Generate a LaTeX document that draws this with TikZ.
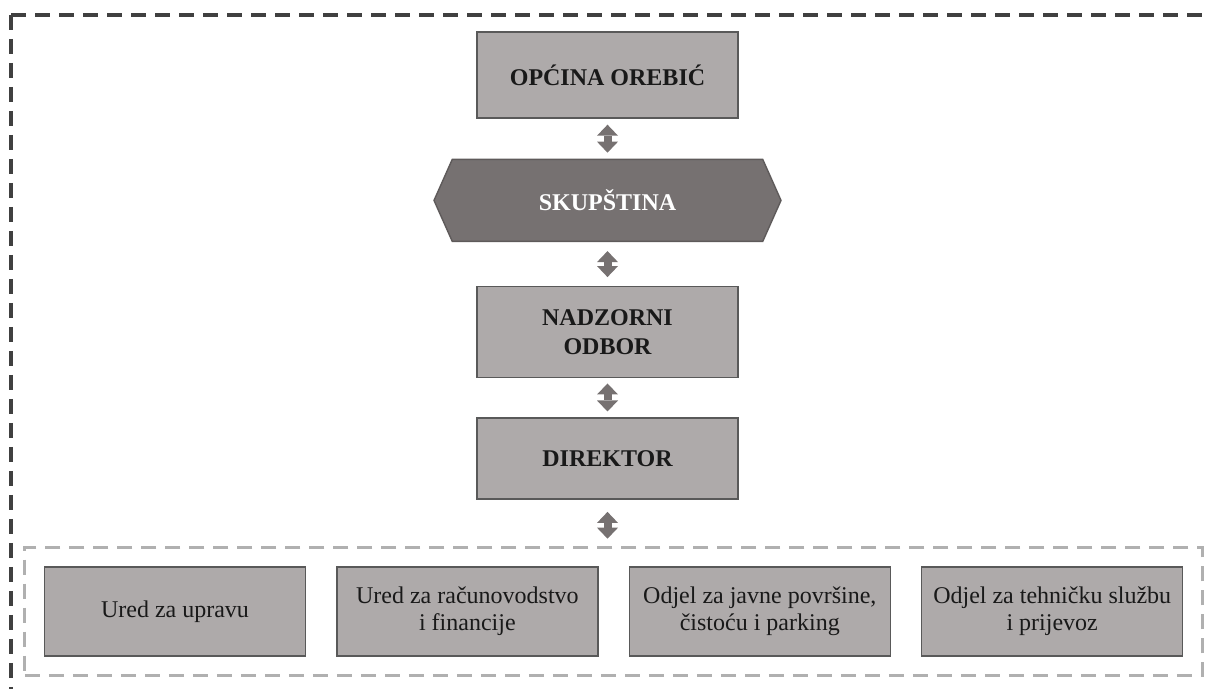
\documentclass[tikz,border=0pt]{standalone}
\usepackage{fontspec}
\setmainfont{Liberation Serif}
\usetikzlibrary{positioning, shapes.symbols, arrows.meta, fit}
\definecolor{orgBoxGrey}{HTML}{AEAAAA}
\definecolor{orgHexGrey}{HTML}{767171}
\definecolor{orgEdge}{HTML}{595959}
\definecolor{orgFrameDark}{HTML}{404040}
\definecolor{orgFrameLight}{HTML}{B0B0B0}
\colorlet{orgInk}{black!90}

\begin{document}
\begin{tikzpicture}[
    unit/.style={fill=orgBoxGrey, draw=orgEdge, line width=0.7pt,
                 minimum width=130.5pt, align=center, text=orgInk},
    head/.style={unit, font=\fontsize{12}{14.5}\selectfont\bfseries},
    dept/.style={unit, minimum height=44.5pt, font=\fontsize{12}{13.5}\selectfont},
    link/.style={{Triangle[width=10.5pt, length=5.5pt, line width=0pt]}-{Triangle[width=10.5pt, length=5.5pt, line width=0pt]},
                 line width=4pt, orgHexGrey},
    dashframe/.style={line width=1.6pt, dash pattern=on 7.5pt off 4.5pt}]
  \useasboundingbox (0,0) rectangle (604.5pt,344.5pt);

  \begin{scope}
    \clip (0,0) rectangle (604.5pt,344.5pt);
    \draw[orgFrameDark, dashframe] (5.5pt,337pt) -- (5.5pt,-10pt);
    \draw[orgFrameDark, dashframe] (5.5pt,337pt) -- (620pt,337pt);
  \end{scope}

  \node[head, minimum height=43pt] (opcina) at (303.75pt,307pt) {OPĆINA OREBIĆ};
  \node[signal, signal to=east and west, signal pointer angle=132,
        fill=orgHexGrey, draw=orgHexGrey!80!black, line width=0.7pt,
        minimum width=173.5pt, minimum height=41pt, text=white,
        font=\fontsize{12}{14.5}\selectfont\bfseries,
        below=20pt of opcina] (skup) {SKUPŠTINA};
  \node[head, minimum height=45.5pt, below=22pt of skup] (nadzor) {NADZORNI\\ODBOR};
  \node[head, minimum height=40.5pt, below=19.5pt of nadzor] (direktor) {DIREKTOR};

  \node[dept] (uprava) at (87.5pt,38.75pt) {Ured za upravu};
  \node[dept, right=15pt of uprava] (racun) {Ured za računovodstvo\\i financije};
  \node[dept, right=15pt of racun] (javne) {Odjel za javne površine,\\čistoću i parking};
  \node[dept, right=15pt of javne] (tehnika) {Odjel za tehničku službu\\i prijevoz};
  \node[fit=(uprava)(tehnika), inner sep=9.5pt, draw=orgFrameLight, dashframe] (odjeli) {};

  \draw[link, shorten <=3pt, shorten >=3pt] (opcina.south) -- (skup.north);
  \draw[link, shorten <=4.5pt, shorten >=4.5pt] (skup.south) -- (nadzor.north);
  \draw[link, shorten <=2.5pt, shorten >=3pt] (nadzor.south) -- (direktor.north);
  \draw[link, shorten <=6pt, shorten >=3.5pt] (direktor.south) -- (direktor.south |- odjeli.north);
\end{tikzpicture}
\end{document}
